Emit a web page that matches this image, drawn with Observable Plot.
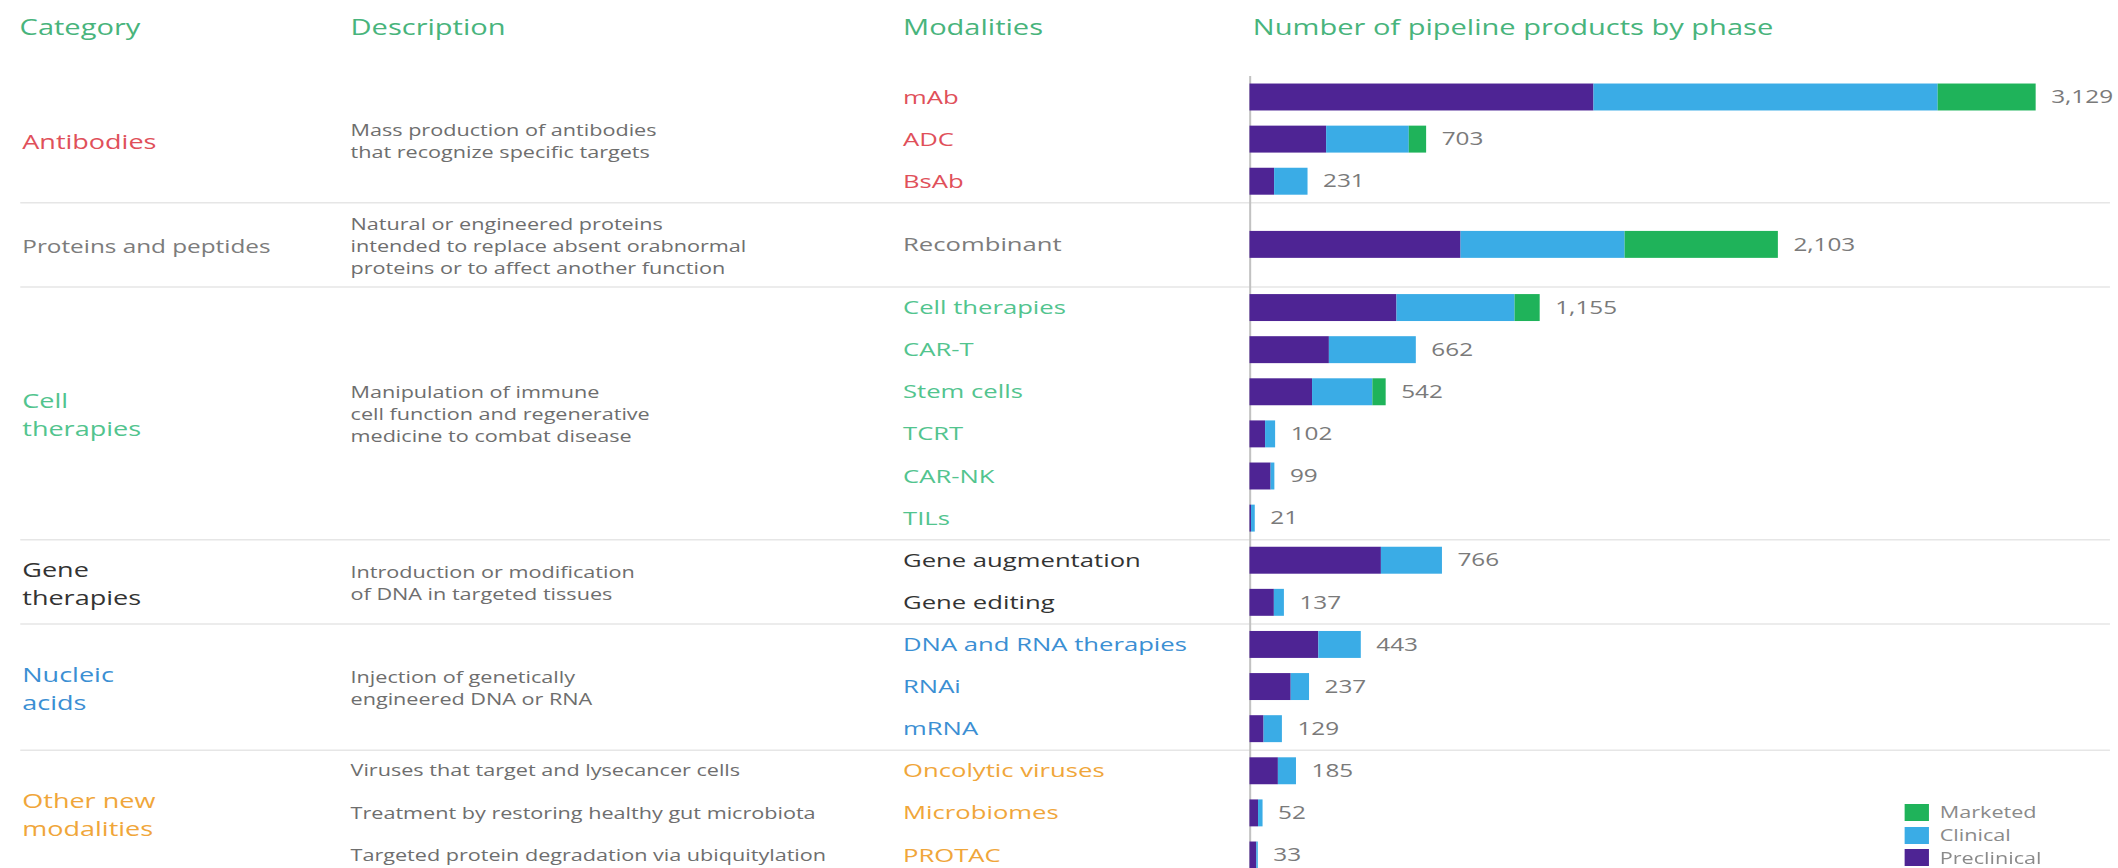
<!DOCTYPE html>
<html>
<head>
<meta charset="utf-8">
<script src="https://cdn.jsdelivr.net/npm/d3@7"></script>
<script src="https://cdn.jsdelivr.net/npm/@observablehq/plot@0.6"></script>
<style>
  html, body { margin: 0; padding: 0; background: #fff; }
  body { width: 2118px; height: 868px; overflow: hidden; }
  #stage { position: relative; width: 1568px; height: 868px; transform: scaleX(1.3508); transform-origin: 0 0; }
  #legend { position: absolute; left: 1410px; top: 801px; }
  #legend > div { margin: 0 !important; min-height: 0 !important; font: 16px "Open Sans", sans-serif; color: #8a8a8a; }
  #legend [class$="-swatch"] { height: 22.7px; padding: 0 !important; margin: 0 !important; display: flex; align-items: center; }
  #legend svg { margin-right: 8px; }
</style>
</head>
<body>
<div id="stage"><div id="chart"></div><div id="legend"></div></div>
<script>
// ---- data ----
const headers = ["Category", "Description", "Modalities", "Number of pipeline products by phase"];
const categories = ["Antibodies", "Proteins and peptides", "Cell therapies", "Gene therapies", "Nucleic acids", "Other new modalities"];
const categoryLabels = ["Antibodies", "Proteins and peptides", "Cell\ntherapies", "Gene\ntherapies", "Nucleic\nacids", "Other new\nmodalities"];
const categoryDescriptions = [
  "Mass production of antibodies\nthat recognize specific targets",
  "Natural or engineered proteins\nintended to replace absent orabnormal\nproteins or to affect another function",
  "Manipulation of immune\ncell function and regenerative\nmedicine to combat disease",
  "Introduction or modification\nof DNA in targeted tissues",
  "Injection of genetically\nengineered DNA or RNA",
  ""
];
const categoryColors = ["#e0505a", "#7c7c7c", "#52c48e", "#333333", "#3b8fd3", "#f0a63a"];
const modalities = ["mAb", "ADC", "BsAb", "Recombinant", "Cell therapies", "CAR-T", "Stem cells", "TCRT", "CAR-NK", "TILs",
  "Gene augmentation", "Gene editing", "DNA and RNA therapies", "RNAi", "mRNA", "Oncolytic viruses", "Microbiomes", "PROTAC"];
const modalityCategory = ["Antibodies", "Antibodies", "Antibodies", "Proteins and peptides",
  "Cell therapies", "Cell therapies", "Cell therapies", "Cell therapies", "Cell therapies", "Cell therapies",
  "Gene therapies", "Gene therapies", "Nucleic acids", "Nucleic acids", "Nucleic acids",
  "Other new modalities", "Other new modalities", "Other new modalities"];
const modalityDescriptions = ["", "", "", "", "", "", "", "", "", "", "", "", "", "", "",
  "Viruses that target and lysecancer cells", "Treatment by restoring healthy gut microbiota", "Targeted protein degradation via ubiquitylation"];
const preclinical = [1369, 305, 98, 840, 585, 316, 249, 62, 84, 6, 523, 97, 274, 164, 56, 113, 34, 27];
const clinical    = [1370, 329, 133, 653, 470, 346, 240, 40, 15, 15, 243, 40, 169, 73, 73, 72, 18, 6];
const marketed    = [390, 69, 0, 610, 100, 0, 53, 0, 0, 0, 0, 0, 0, 0, 0, 0, 0, 0];
const totals      = [3129, 703, 231, 2103, 1155, 662, 542, 102, 99, 21, 766, 137, 443, 237, 129, 185, 52, 33];
const phases = ["Marketed", "Clinical", "Preclinical"];
const phaseColors = ["#1fb35a", "#3aace6", "#4e2494"];

// ---- layout derived from data ----
let slot = 0;
const groups = categories.map((c, gi) => {
  const idx = modalities.map((m, i) => i).filter(i => modalityCategory[i] === c);
  const span = Math.max(idx.length, 2);
  const start = slot;
  slot += span;
  const rows = idx.map((i, k) => ({i, name: modalities[i], slot: start + (span - idx.length) / 2 + k, desc: modalityDescriptions[i]}));
  return {c, gi, label: categoryLabels[gi], desc: categoryDescriptions[gi], color: categoryColors[gi], start, span, center: start + (span - 1) / 2, rows};
});
const rows = groups.flatMap(g => g.rows);
const boundaries = groups.slice(1).map(g => g.start - 0.5);
const segments = rows.flatMap(r => {
  let x = 0;
  return [["Preclinical", preclinical[r.i]], ["Clinical", clinical[r.i]], ["Marketed", marketed[r.i]]]
    .filter(([, v]) => v > 0)
    .map(([phase, v]) => ({phase, slot: r.slot, x1: x, x2: (x += v)}));
});
const firstSlot = d3.min(rows, d => d.slot), lastSlot = d3.max(rows, d => d.slot);
const fmt = d3.format(",");
const FONT = "Open Sans";
const headerColor = "#48b47c";
const colX = {category: 16, description: 259, modality: 668};
// long single-line category names are set a little smaller so they fit the column
const categoryFontSize = label => d3.max(label.split("\n"), s => s.length) > 14 ? 18 : 20;

const marks = [
  Plot.ruleY(boundaries, {y: d => d, stroke: "#e6e6e6", strokeWidth: 1.5, insetLeft: 15, insetRight: 6}),
  Plot.ruleX([0], {y1: firstSlot - 0.5, y2: lastSlot + 0.5, stroke: "#c2c2c2", strokeWidth: 1.5}),
  Plot.rect(segments, {x1: "x1", x2: "x2", y1: d => d.slot - 0.32, y2: d => d.slot + 0.32, fill: "phase"}),
  Plot.text(rows, {x: d => totals[d.i], y: "slot", text: d => fmt(totals[d.i]), dx: 11, textAnchor: "start", fill: "#7a7a7a", fontSize: 18, fontFamily: FONT}),
  // headers
  Plot.text([headers[0]], {frameAnchor: "top-left", dx: colX.category - 2, dy: 28, text: d => d, textAnchor: "start", lineAnchor: "middle", fill: headerColor, fontSize: 21.5, fontFamily: FONT}),
  Plot.text([headers[1]], {frameAnchor: "top-left", dx: colX.description, dy: 28, text: d => d, textAnchor: "start", lineAnchor: "middle", fill: headerColor, fontSize: 21.5, fontFamily: FONT}),
  Plot.text([headers[2]], {frameAnchor: "top-left", dx: colX.modality, dy: 28, text: d => d, textAnchor: "start", lineAnchor: "middle", fill: headerColor, fontSize: 21.5, fontFamily: FONT}),
  Plot.text([headers[3]], {x: 0, frameAnchor: "top", dx: 2, dy: 28, text: d => d, textAnchor: "start", lineAnchor: "middle", fill: headerColor, fontSize: 21.5, fontFamily: FONT})
];
for (const g of groups) {
  marks.push(Plot.text([g], {frameAnchor: "left", dx: colX.category, y: "center", text: "label", textAnchor: "start", lineAnchor: "middle", lineHeight: 1.4, fill: g.color, fontSize: categoryFontSize(g.label), fontFamily: FONT}));
  if (g.desc) marks.push(Plot.text([g], {frameAnchor: "left", dx: colX.description, y: "center", text: "desc", textAnchor: "start", lineAnchor: "middle", lineHeight: 1.375, fill: "#6e6e6e", fontSize: 16, fontFamily: FONT}));
  marks.push(Plot.text(g.rows.filter(r => r.desc), {frameAnchor: "left", dx: colX.description, y: "slot", text: "desc", textAnchor: "start", lineAnchor: "middle", fill: "#6e6e6e", fontSize: 16, fontFamily: FONT}));
  marks.push(Plot.text(g.rows, {frameAnchor: "left", dx: colX.modality, y: "slot", text: "name", textAnchor: "start", lineAnchor: "middle", fill: g.color, fontSize: 19, fontFamily: FONT}));
}

const chart = Plot.plot({
  width: 1568,
  height: 868,
  marginTop: 0, marginBottom: 0, marginLeft: 0, marginRight: 0,
  style: {fontFamily: FONT, background: "#fff"},
  x: {range: [925, 1507], axis: null},
  y: {type: "linear", domain: [firstSlot, lastSlot], range: [97, 855], axis: null},
  color: {domain: phases, range: phaseColors},
  marks
});
document.getElementById("chart").append(chart);

const legend = Plot.legend({
  color: {domain: phases, range: phaseColors},
  legend: "swatches",
  columns: 1,
  swatchWidth: 18,
  swatchHeight: 17,
  style: {fontFamily: FONT, fontSize: "16px", color: "#8a8a8a"}
});
document.getElementById("legend").append(legend);
</script>
</body>
</html>
